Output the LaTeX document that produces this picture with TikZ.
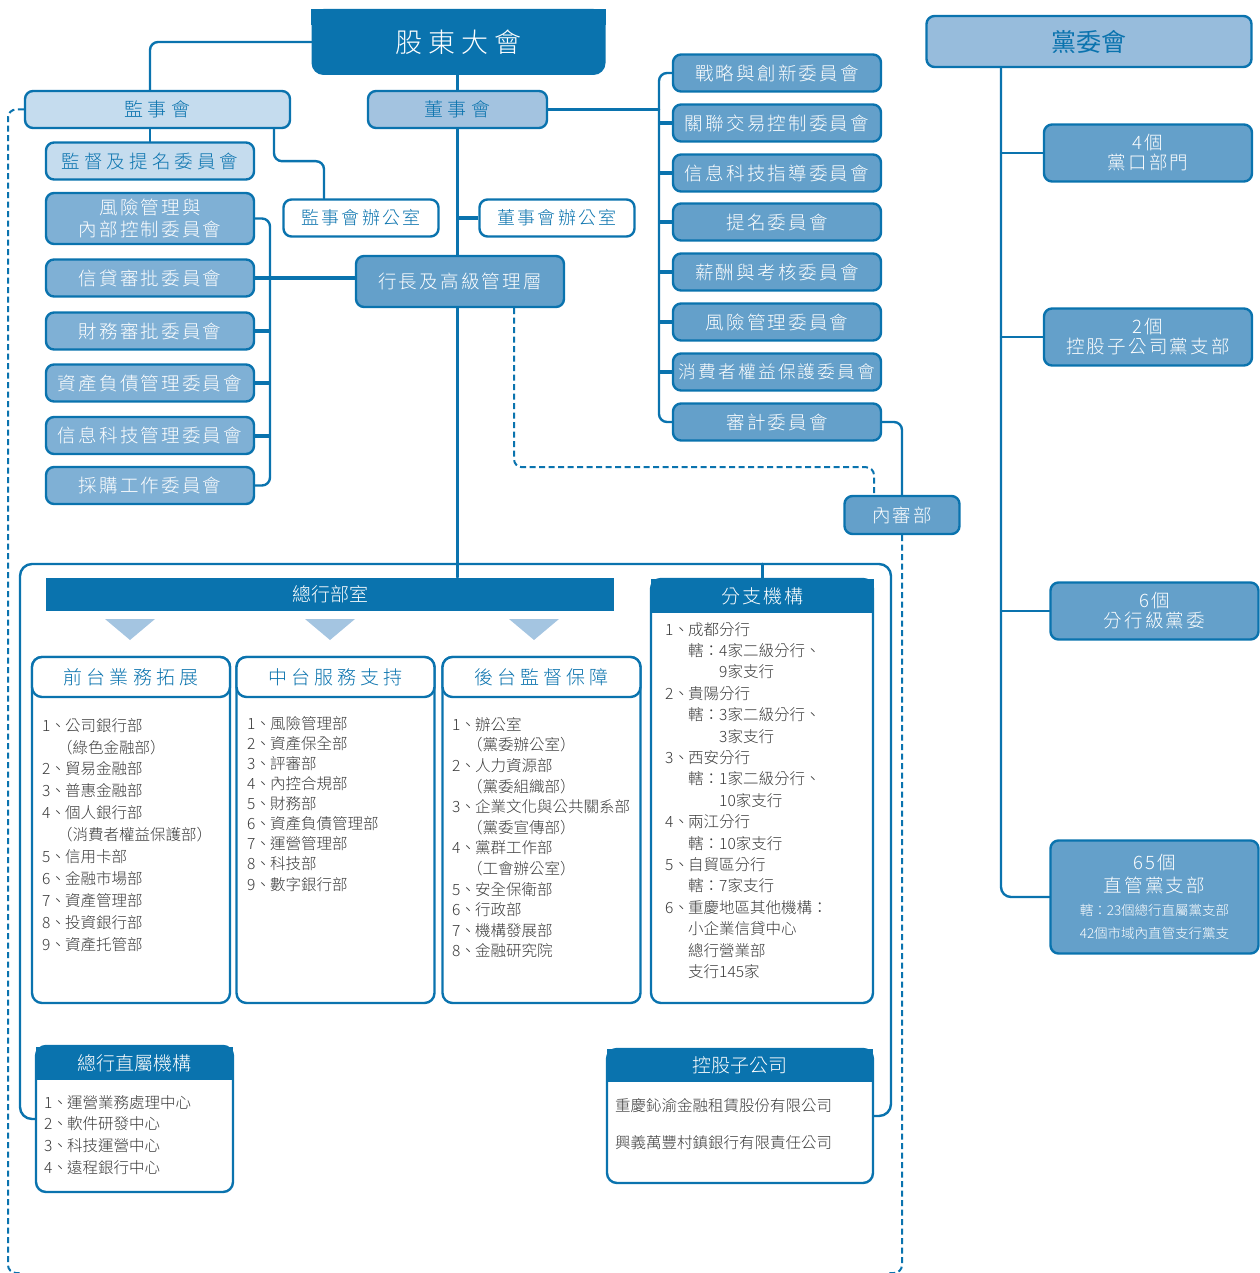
\documentclass[tikz,border=0pt]{standalone}
\usepackage{fontspec}
\setmainfont{Noto Sans CJK TC Light}
\newfontfamily\spaced[LetterSpace=12]{Noto Sans CJK TC Light}
\newfontfamily\wider[LetterSpace=22]{Noto Sans CJK TC Light}
\newfontfamily\pieno{Noto Sans CJK TC}
\usetikzlibrary{calc}

\definecolor{dkblue}{HTML}{0A73AE}
\definecolor{mdblue}{HTML}{64A0CA}
\definecolor{lfblue}{HTML}{7FB0D5}
\definecolor{ltblue}{HTML}{C5DCEE}
\definecolor{bdblue}{HTML}{A3C3E0}
\definecolor{pyblue}{HTML}{97BCDC}
\definecolor{trblue}{HTML}{A4C5E1}
\definecolor{txgray}{HTML}{3A3A3A}

\newcommand{\voce}[2]{\makebox[23pt][l]{#1}#2}
\newcommand{\rientro}{\hspace*{23pt}}
\newcommand{\parent}{\hspace*{15pt}}

\begin{document}
\begin{tikzpicture}[x=1pt, y=-1pt, line cap=round, line join=round,
  conn/.style={draw=dkblue, line width=2.4pt, rounded corners=8pt},
  stub/.style={draw=dkblue, line width=4pt, line cap=butt},
  tratt/.style={draw=dkblue, line width=2pt, line cap=butt, dash pattern=on 6pt off 3.5pt, rounded corners=8pt},
  comm/.style={draw=dkblue, line width=2.4pt, fill=mdblue, text=white, rounded corners=8pt,
    minimum width=208pt, minimum height=37pt, inner sep=0pt, align=center,
    font=\spaced\fontsize{18.5}{22}\selectfont},
  lcomm/.style={comm, fill=lfblue},
  ufficio/.style={comm, fill=white, text=dkblue, minimum width=155pt, font=\spaced\fontsize{18}{22}\selectfont},
  partito/.style={comm, minimum height=57pt, font=\spaced\fontsize{18.5}{20}\selectfont},
  testata/.style={draw=dkblue, line width=2.4pt, fill=white, text=dkblue, rounded corners=10pt,
    minimum width=198pt, minimum height=40pt, inner sep=0pt, font=\wider\fontsize{19}{22}\selectfont},
  corpo/.style={draw=dkblue, line width=2.4pt, fill=white, rounded corners=10pt, inner sep=0pt},
  barra/.style={fill=dkblue, text=white, inner sep=0pt, font=\fontsize{19}{22}\selectfont},
  elenco/.style={anchor=north west, align=left, inner sep=0pt, text=txgray, font=\fontsize{15.5}{21.9}\selectfont}
]
\useasboundingbox (0,0) rectangle (1259,1273);

% bus di collegamento
\coordinate (rb) at (659,0);
\coordinate (lb) at (270,0);
\coordinate (pb) at (1001,0);

% vertice
\node[fill=dkblue, text=white, rounded corners=12pt, minimum width=294pt, minimum height=66pt,
  font=\wider\fontsize{27}{30}\selectfont] (gd) at (458.5,42) {股東大會};
\fill[dkblue] (gd.north west) rectangle ++(16,16);
\fill[dkblue] (gd.north east) rectangle ++(-16,16);

\node[comm, fill=ltblue, text=dkblue, minimum width=265pt, font=\wider\fontsize{19}{22}\selectfont] (js) at (157.5,109.5) {監事會};
\node[comm, fill=bdblue, text=dkblue, minimum width=179pt, font=\wider\fontsize{19}{22}\selectfont] (ds) at (457.5,109.5) {董事會};
\node[comm, fill=ltblue, text=dkblue, font=\wider\fontsize{18.5}{22}\selectfont] (jd) at (150,161) {監督及提名委員會};
\node[ufficio] (jo) at (361,218) {監事會辦公室};
\node[ufficio] (do) at (557,218) {董事會辦公室};
\node[comm, minimum height=51pt, font=\spaced\fontsize{18.5}{22}\selectfont] (hz) at (460,281.5) {行長及高級管理層};

% comitati della direzione
\node[lcomm, minimum height=51pt] (l1) at (150,218.5) {風險管理與\\內部控制委員會};
\node[lcomm] (l2) at (150,278) {信貸審批委員會};
\node[lcomm] (l3) at (150,331) {財務審批委員會};
\node[lcomm] (l4) at (150,383) {資產負債管理委員會};
\node[lcomm] (l5) at (150,435.5) {信息科技管理委員會};
\node[lcomm] (l6) at (150,485.5) {採購工作委員會};

% comitati del consiglio
\node[comm] (r1) at (777,73) {戰略與創新委員會};
\node[comm] (r2) at (777,123) {關聯交易控制委員會};
\node[comm] (r3) at (777,173) {信息科技指導委員會};
\node[comm] (r4) at (777,222) {提名委員會};
\node[comm] (r5) at (777,272) {薪酬與考核委員會};
\node[comm] (r6) at (777,322) {風險管理委員會};
\node[comm, font=\spaced\fontsize{17.7}{22}\selectfont] (r7) at (777,372) {消費者權益保護委員會};
\node[comm] (r8) at (777,422) {審計委員會};
\node[comm, minimum width=115pt, minimum height=38pt] (nb) at (902,515) {內審部};

% partito
\node[comm, fill=pyblue, text=dkblue, minimum width=325pt, minimum height=51pt,
  font=\pieno\fontsize{25}{28}\selectfont] (p0) at (1089,41.5) {黨委會};
\node[partito] (p1) at (1148,153) {4個\\黨口部門};
\node[partito] (p2) at (1148,337) {2個\\控股子公司黨支部};
\node[partito] (p3) at (1154.5,611) {6個\\分行級黨委};
\node[partito, minimum height=113pt, font=\spaced\fontsize{18.5}{23}\selectfont] (p4) at (1154.5,897)
  {65個\\直管黨支部\\{\normalfont\fontsize{13.5}{16}\selectfont 轄：23個總行直屬黨支部}\\{\normalfont\fontsize{13.5}{16}\selectfont 42個市域內直管支行黨支}};

% collegamenti in alto
\draw[conn] (gd.west) -| ([xshift=-7.5pt]js.north);
\draw[conn] (gd.south -| ds.north) -- (ds.north);
\draw[conn] (jd.north |- js.south) -- (jd.north);
\draw[conn] ([xshift=116.5pt]js.south) -- ++(0,32) -| ([xshift=-37pt]jo.north);
\draw[conn] (ds.south) -- (ds.south |- hz.north);
\draw[stub] (do.west) -- (do.west -| ds.south);
\draw[conn] (ds.east) -- (ds.east -| rb);
\draw[conn] (r1.west) -- (r1.west -| rb) |- (r8.west);
\foreach \i in {2,...,7}
  \draw[stub] (r\i.west) -- (r\i.west -| rb);
\draw[conn] (l1.east) -- (l1.east -| lb) |- (l6.east);
\draw[stub] (l2.east) -- (l2.east -| hz.west);
\foreach \i in {3,4,5}
  \draw[stub] (l\i.east) -- (l\i.east -| lb);
\draw[conn] (r8.east) -| (nb.north);
\draw[tratt] ([xshift=54pt]hz.south) -- ++(0,159) -| ([xshift=-28pt]nb.north);
\draw[tratt] (js.west) -| (8,1273) -- (20,1273);
\draw[tratt] (nb.south) |- (888,1273);
\draw[conn, rounded corners=10pt] ([xshift=-88pt]p0.south) |- (p4.west);
\foreach \i in {1,2,3}
  \draw[conn] (p\i.west) -- (p\i.west -| pb);

% sede centrale
\node[barra, minimum width=568pt, minimum height=33pt] (zb) at (330,594) {總行部室};
\draw[conn] (ds.south |- hz.south) -- (ds.south |- zb.north);
\foreach \x in {130,330,534}
  \fill[trblue] (\x-25,619) -- (\x+25,619) -- (\x,640) -- cycle;

\node[corpo, minimum width=198pt, minimum height=346pt] (c1) at (131,830) {};
\node[corpo, minimum width=198pt, minimum height=346pt] (c2) at (335.5,830) {};
\node[corpo, minimum width=198pt, minimum height=346pt] (c3) at (541.5,830) {};
\node[testata] (h1) at (131,677) {前台業務拓展};
\node[testata] (h2) at (335.5,677) {中台服務支持};
\node[testata] (h3) at (541.5,677) {後台監督保障};

\node[elenco] (t1) at (42,718) {\voce{1、}{公司銀行部}\\ \parent（綠色金融部）\\ \voce{2、}{貿易金融部}\\
  \voce{3、}{普惠金融部}\\ \voce{4、}{個人銀行部}\\ \parent（消費者權益保護部）\\ \voce{5、}{信用卡部}\\
  \voce{6、}{金融市場部}\\ \voce{7、}{資產管理部}\\ \voce{8、}{投資銀行部}\\ \voce{9、}{資產托管部}};
\node[elenco, font=\fontsize{15.5}{20.1}\selectfont] (t2) at (247,716) {\voce{1、}{風險管理部}\\ \voce{2、}{資產保全部}\\
  \voce{3、}{評審部}\\ \voce{4、}{內控合規部}\\ \voce{5、}{財務部}\\ \voce{6、}{資產負債管理部}\\
  \voce{7、}{運營管理部}\\ \voce{8、}{科技部}\\ \voce{9、}{數字銀行部}};
\node[elenco, font=\fontsize{15.5}{20.6}\selectfont] (t3) at (452,717) {\voce{1、}{辦公室}\\ \parent（黨委辦公室）\\
  \voce{2、}{人力資源部}\\ \parent（黨委組織部）\\ \voce{3、}{企業文化與公共關系部}\\ \parent（黨委宣傳部）\\
  \voce{4、}{黨群工作部}\\ \parent（工會辦公室）\\ \voce{5、}{安全保衛部}\\ \voce{6、}{行政部}\\
  \voce{7、}{機構發展部}\\ \voce{8、}{金融研究院}};

% rete delle filiali
\node[corpo, minimum width=222pt, minimum height=424pt] (fb) at (762,791) {};
\node[barra, minimum width=223pt, minimum height=34pt, font=\spaced\fontsize{19}{22}\selectfont] (fz) at (762.5,596) {分支機構};
\node[elenco, font=\fontsize{15.5}{21.4}\selectfont] (t4) at (665,622) {\voce{1、}{成都分行}\\
  \rientro 轄：4家二級分行、\\ \rientro\hspace*{31pt}9家支行\\ \voce{2、}{貴陽分行}\\
  \rientro 轄：3家二級分行、\\ \rientro\hspace*{31pt}3家支行\\ \voce{3、}{西安分行}\\
  \rientro 轄：1家二級分行、\\ \rientro\hspace*{31pt}10家支行\\ \voce{4、}{兩江分行}\\
  \rientro 轄：10家支行\\ \voce{5、}{自貿區分行}\\ \rientro 轄：7家支行\\
  \voce{6、}{重慶地區其他機構：}\\ \rientro 小企業信貸中心\\ \rientro 總行營業部\\ \rientro 支行145家};

% istituti diretti e controllate
\node[corpo, minimum width=197pt, minimum height=146pt] (tz) at (134.5,1119) {};
\node[barra, minimum width=197pt, minimum height=33pt] (th) at (134.5,1063.5) {總行直屬機構};
\node[elenco, font=\fontsize{15.5}{21.7}\selectfont] (t5) at (44,1095) {\voce{1、}{運營業務處理中心}\\
  \voce{2、}{軟件研發中心}\\ \voce{3、}{科技運營中心}\\ \voce{4、}{遠程銀行中心}};
\node[corpo, minimum width=266pt, minimum height=134pt] (kg) at (740,1116) {};
\node[barra, minimum width=266pt, minimum height=33pt] (kh) at (740,1065.5) {控股子公司};
\node[elenco, font=\fontsize{15.5}{37}\selectfont] (t6) at (615,1098) {重慶鈊渝金融租賃股份有限公司\\
  興義萬豐村鎮銀行有限責任公司};

% cornice
\draw[conn, rounded corners=12pt] (tz.west) -| (20,564) -- (891,564) |- (kg.east);
\draw[conn] (fz.north) -- ++(0,-15);

\end{tikzpicture}
\end{document}
